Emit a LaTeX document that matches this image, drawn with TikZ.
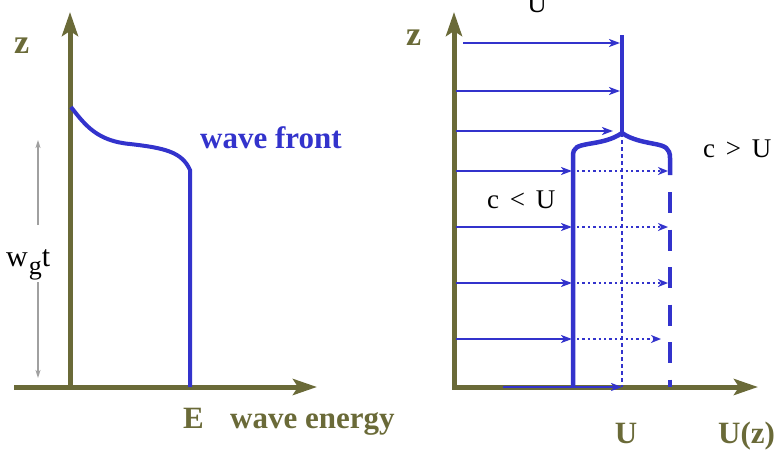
\documentclass[tikz,border=0pt]{standalone}
\usepackage{fontspec}
\setmainfont{Liberation Serif}
\usetikzlibrary{arrows.meta}
\definecolor{axolive}{RGB}{106,106,56}
\definecolor{wblue}{RGB}{51,51,204}
\definecolor{wgray}{RGB}{160,160,160}
\tikzset{
  axisline/.style={line width=5pt, draw=axolive, -{Stealth[length=24pt,width=16pt,inset=5pt]}},
  front/.style={line width=4.5pt, draw=wblue},
  flow/.style={line width=2.2pt, draw=wblue, -{Stealth[length=11pt,width=8pt,inset=3pt]}},
  slowflow/.style={line width=2.4pt, draw=wblue, dash pattern=on 2.4pt off 3pt, -{Stealth[open,length=10pt,width=8pt,inset=3pt]}},
  grayarrow/.style={line width=1.3pt, draw=wgray, -{Stealth[length=8pt,width=5pt,inset=2pt]}},
  boldlabel/.style={inner sep=0pt, anchor=base west, text=axolive, font=\bfseries\fontsize{31}{31}\selectfont},
  bluelabel/.style={inner sep=0pt, anchor=base west, text=wblue, font=\bfseries\fontsize{31}{31}\selectfont},
  plainlabel/.style={inner sep=0pt, anchor=base west, text=black, font=\fontsize{27}{27}\selectfont},
}
\begin{document}
\begin{tikzpicture}[x=1pt,y=-1pt]
\useasboundingbox (0,0) rectangle (777,450);
% ---------- left panel ----------
\coordinate (LO) at (70,387);
\coordinate (LZ) at (70,12);
\coordinate (LXs) at (14,387);
\coordinate (LX) at (317,387);
\draw[axisline] (LO) -- (LZ);
\draw[axisline] (LXs) -- (LX);
\coordinate (wf0) at (71,107);
\coordinate (wf1) at (130,144);
\coordinate (wf2) at (190,170);
\coordinate (wfb) at (190,387);
\draw[front, line width=4pt] (wf0) .. controls (85,125) and (97,141) .. (wf1)
   .. controls (165,148) and (182,152) .. (wf2) -- (wfb);
\coordinate (g1) at (38,225);
\coordinate (g1t) at (38,140);
\coordinate (g2) at (38,282);
\coordinate (g2t) at (38,378);
\draw[grayarrow] (g1) -- (g1t);
\draw[grayarrow] (g2) -- (g2t);
\node[inner sep=0pt, anchor=base west, font=\fontsize{30}{30}\selectfont] (wgt) at (6,266)
  {w\kern1pt\raisebox{-8pt}{\fontsize{26}{26}\selectfont g}t};
\node[boldlabel, font=\bfseries\fontsize{34}{34}\selectfont] (zL) at (14,53) {z};
\node[bluelabel] (wfl) at (200,148) {wave front};
\node[boldlabel] (El) at (183,428) {E};
\node[boldlabel] (wel) at (230,428) {wave energy};
% ---------- right panel ----------
\coordinate (RO) at (454,389);
\coordinate (RZ) at (454,12);
\coordinate (RXs) at (452,387);
\coordinate (RX) at (758,387);
\draw[axisline] (RO) -- (RZ);
\draw[axisline] (RXs) -- (RX);
\coordinate (J) at (622,133);
\coordinate (Jtop) at (622,35);
\draw[wblue, line width=1.3pt, dash pattern=on 4pt off 3pt] (J) -- (622,387);
\draw[front] (Jtop) -- (J);
\draw[front] (J) .. controls (612,140) and (600,142) .. (588,144)
   .. controls (578,146) and (573,147) .. (573,156) -- (573,387);
\draw[front] (J) .. controls (632,140) and (645,142) .. (655,144)
   .. controls (665,146) and (670,148) .. (670,158) -- (670,175);
\draw[front, dash pattern=on 21pt off 16.5pt] (670,192) -- (670,387);
\draw[flow] (463,43) -- (620,43);
\draw[flow] (456,91) -- (620,91);
\draw[flow] (456,131) -- (613,131);
\foreach \yy in {171,227,283} {
  \draw[flow] (456,\yy) -- (572,\yy);
  \draw[slowflow] (577,\yy) -- (668,\yy);
}
\draw[flow] (456,339) -- (572,339);
\draw[slowflow] (577,339) -- (661,339);
\draw[flow] (503,387) -- (622,387);
\node[boldlabel, font=\bfseries\fontsize{34}{34}\selectfont] (zR) at (406,45) {z};
\node[plainlabel, anchor=base] (Utop) at (537,12) {U};
\node[plainlabel] (cl) at (487,208) {c\hspace{0.4em}<\hspace{0.4em}U};
\node[plainlabel] (cg) at (703,157) {c\hspace{0.4em}>\hspace{0.4em}U};
\node[boldlabel, anchor=base] (Ub) at (626,443) {U};
\node[boldlabel] (Uz) at (718,443) {U(z)};
\end{tikzpicture}
\end{document}
